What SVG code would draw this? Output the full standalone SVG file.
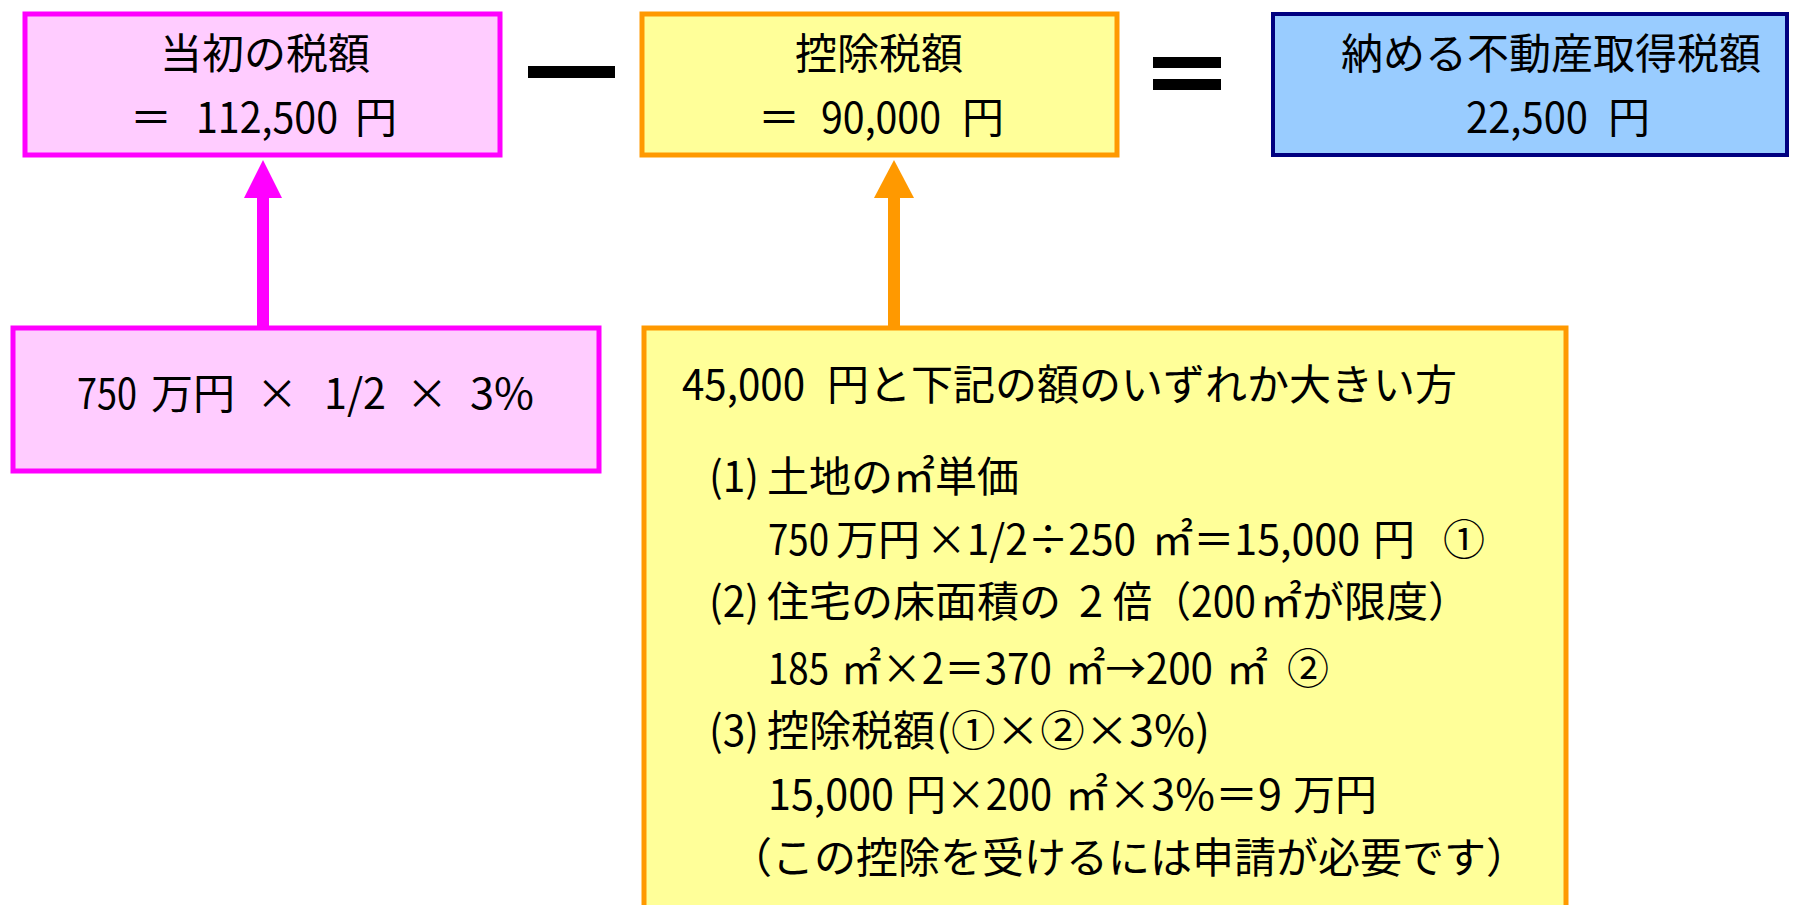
<svg xmlns="http://www.w3.org/2000/svg" width="1820" height="905" viewBox="0 0 1820 905">
<style>
.t{font-family:"Noto Sans CJK JP","Noto Sans CJK SC",sans-serif;font-size:42px;fill:#000;}
.m{text-anchor:middle;}
.pink{fill:#FFCCFF;stroke:#FF00FF;stroke-width:5;}
.yel{fill:#FFFF99;stroke:#FF9900;stroke-width:5;}
.blue{fill:#99CCFF;stroke:#000080;stroke-width:4;}
</style>
<rect width="1820" height="905" fill="#fff"/>
<g id="connectors">
<rect x="257" y="195" width="12" height="132" fill="#FF00FF"/>
<polygon points="263,160 244,198 282,198" fill="#FF00FF"/>
<rect x="888" y="195" width="12" height="133" fill="#FF9900"/>
<polygon points="894,160 874,198 914,198" fill="#FF9900"/>
</g>
<g id="minus"><rect x="528" y="66" width="87" height="12" fill="#000"/></g>
<g id="equals"><rect x="1153" y="57" width="68" height="11" fill="#000"/><rect x="1153" y="79" width="68" height="11" fill="#000"/></g>
<g id="initial-tax">
<rect class="pink" x="25" y="14" width="475" height="141"/>
<text class="t m" x="265" y="69">当初の税額</text>
<text class="t" y="133"><tspan x="130">＝</tspan> <tspan x="196" textLength="142" lengthAdjust="spacingAndGlyphs">112,500</tspan> <tspan x="355">円</tspan></text>
</g>
<g id="deduction">
<rect class="yel" x="642" y="14" width="475" height="141"/>
<text class="t m" x="879" y="69">控除税額</text>
<text class="t" y="133"><tspan x="758">＝</tspan> <tspan x="821" textLength="120" lengthAdjust="spacingAndGlyphs">90,000</tspan> <tspan x="962">円</tspan></text>
</g>
<g id="payable">
<rect class="blue" x="1273" y="14" width="514" height="141"/>
<text class="t m" x="1551" y="69">納める不動産取得税額</text>
<text class="t" y="133"><tspan x="1466" textLength="122" lengthAdjust="spacingAndGlyphs">22,500</tspan> <tspan x="1608">円</tspan></text>
</g>
<g id="calc-initial">
<rect class="pink" x="13" y="328" width="586" height="143"/>
<text class="t" y="409"><tspan x="77" textLength="60" lengthAdjust="spacingAndGlyphs">750</tspan> <tspan x="151">万円</tspan> <tspan x="256">×</tspan> <tspan x="324" textLength="62" lengthAdjust="spacingAndGlyphs">1/2</tspan> <tspan x="406">×</tspan> <tspan x="470" textLength="64" lengthAdjust="spacingAndGlyphs">3%</tspan></text>
</g>
<g id="calc-deduction">
<rect class="yel" x="644" y="328" width="922" height="600"/>
<text class="t" y="400"><tspan x="682" textLength="123" lengthAdjust="spacingAndGlyphs">45,000</tspan> <tspan x="827">円と下記の額のいずれか大きい方</tspan></text>
<text class="t" y="492"><tspan x="709" textLength="50" lengthAdjust="spacingAndGlyphs">(1)</tspan><tspan x="767">土地の㎡単価</tspan></text>
<text class="t" y="555"><tspan x="768" textLength="61" lengthAdjust="spacingAndGlyphs">750</tspan> <tspan x="836">万円</tspan><tspan x="926" textLength="210" lengthAdjust="spacingAndGlyphs">×1/2÷250</tspan> <tspan x="1152" textLength="208" lengthAdjust="spacingAndGlyphs">㎡＝15,000</tspan> <tspan x="1373">円</tspan> <tspan x="1443">①</tspan></text>
<text class="t" y="617"><tspan x="709" textLength="50" lengthAdjust="spacingAndGlyphs">(2)</tspan><tspan x="767">住宅の床面積の</tspan> <tspan x="1079" textLength="24" lengthAdjust="spacingAndGlyphs">2</tspan> <tspan x="1113" textLength="143" lengthAdjust="spacingAndGlyphs">倍（200</tspan> <tspan x="1260">㎡が限度）</tspan></text>
<text class="t" y="684"><tspan x="768" textLength="61" lengthAdjust="spacingAndGlyphs">185</tspan> <tspan x="841" textLength="211" lengthAdjust="spacingAndGlyphs">㎡×2＝370</tspan> <tspan x="1065" textLength="148" lengthAdjust="spacingAndGlyphs">㎡→200</tspan> <tspan x="1226">㎡</tspan> <tspan x="1287">②</tspan></text>
<text class="t" y="746"><tspan x="709" textLength="50" lengthAdjust="spacingAndGlyphs">(3)</tspan><tspan x="767">控除税額</tspan><tspan x="936" textLength="274" lengthAdjust="spacingAndGlyphs">(①×②×3%)</tspan></text>
<text class="t" y="810"><tspan x="768" textLength="126" lengthAdjust="spacingAndGlyphs">15,000</tspan> <tspan x="906" textLength="146" lengthAdjust="spacingAndGlyphs">円×200</tspan> <tspan x="1065" textLength="217" lengthAdjust="spacingAndGlyphs">㎡×3%＝9</tspan> <tspan x="1293">万円</tspan></text>
<text class="t" x="730" y="873">（この控除を受けるには申請が必要です）</text>
</g>
</svg>
